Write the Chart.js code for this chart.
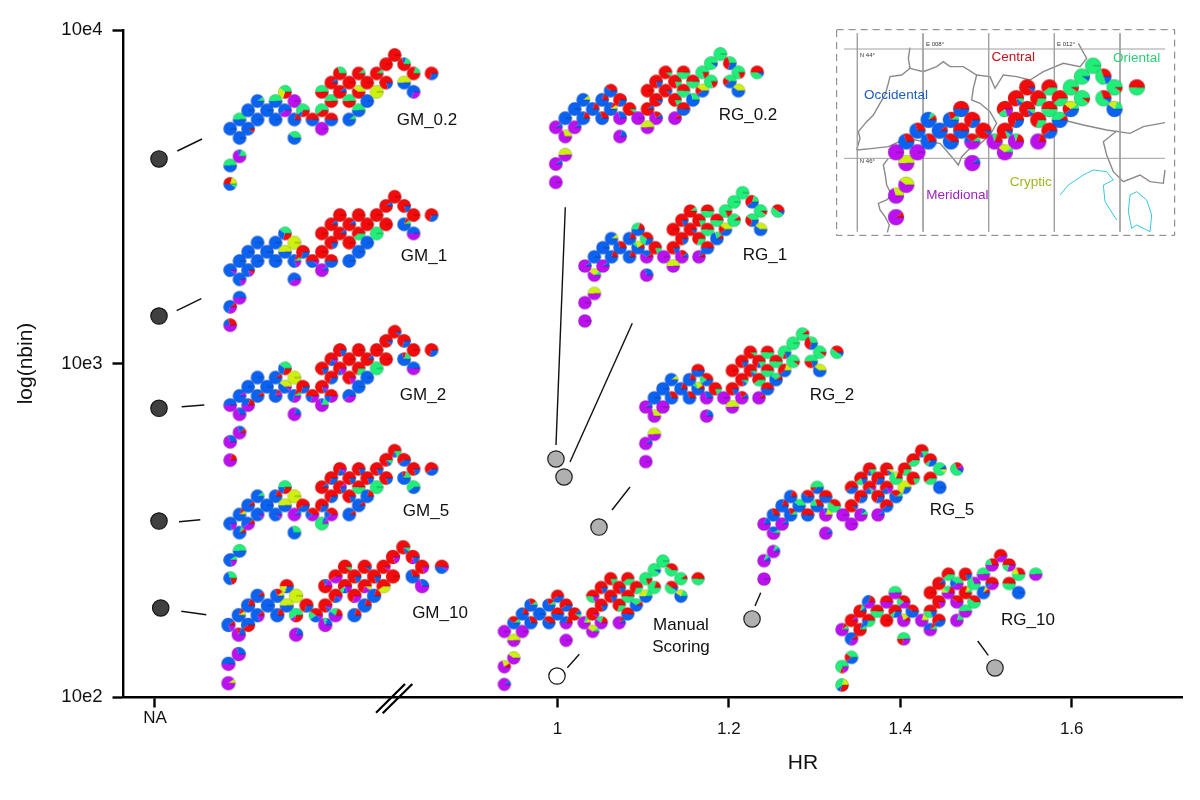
<!DOCTYPE html>
<html><head><meta charset="utf-8">
<style>html,body{margin:0;padding:0;background:#fff}canvas{display:block}</style>
<script src="https://cdn.jsdelivr.net/npm/chart.js@4"></script>
</head><body><canvas id="c" width="1200" height="800"></canvas>
<script>
// ---- categories / ticks
const hrTicks = [0.5303, 1, 1.2, 1.4, 1.6];
const hrTickLabels = ['NA', ['', '1'], ['', '1.2'], ['', '1.4'], ['', '1.6']];
const nbinTicks = [100, 1000, 10000];
const nbinTickLabels = ['10e2', '10e3', '10e4'];
// ---- the 46 sampling sites: column and row of each site in the map grid
const siteCol = [0,0,1,1,0,2,1,3,2,4,3,5,5,6,6,7,7,7,8,9,10,11,10,10,11,11,12,12,13,13,13,14,14,14,15,15,16,16,17,17,18,19,20,19,20,22];
const siteRow = [14,12,11,9,8,8,7,7,6,6,5,5,7,6,4,5,7,9,6,7,6,7,8,4,5,3,2,4,3,5,7,6,4,2,3,5,2,4,3,1,0,1,2,3,4,2];
// ---- HR of each grid column, per panel
const GM_hr = [.618,.629,.639,.650,.661,.671,.682,.693,.703,.714,.725,.736,.746,.757,.768,.778,.789,.800,.810,.821,.832,.843,.853];
const GM_10_hr = [.616,.628,.639,.650,.662,.673,.684,.695,.707,.718,.729,.741,.752,.763,.775,.786,.797,.808,.820,.831,.842,.854,.865];
const RG_02_hr = [.998,1.009,1.020,1.030,1.041,1.052,1.062,1.073,1.084,1.094,1.105,1.115,1.126,1.137,1.147,1.158,1.169,1.179,1.190,1.201,1.211,1.222,1.233];
const RG_1_hr = [1.032,1.043,1.053,1.063,1.073,1.084,1.094,1.104,1.114,1.124,1.135,1.145,1.155,1.165,1.175,1.186,1.196,1.206,1.216,1.227,1.237,1.247,1.257];
const RG_2_hr = [1.103,1.113,1.123,1.133,1.144,1.154,1.164,1.174,1.184,1.194,1.204,1.215,1.225,1.235,1.245,1.255,1.265,1.275,1.286,1.296,1.306,1.316,1.326];
const RG_5_hr = [1.241,1.252,1.262,1.272,1.282,1.292,1.303,1.313,1.323,1.333,1.343,1.354,1.364,1.374,1.384,1.395,1.405,1.415,1.425,1.435,1.446,1.456,1.466];
const RG_10_hr = [1.332,1.343,1.353,1.363,1.373,1.384,1.394,1.404,1.414,1.425,1.435,1.445,1.456,1.466,1.476,1.486,1.497,1.507,1.517,1.527,1.538,1.548,1.558];
const MAN_hr = [.938,.949,.959,.969,.979,.990,1.000,1.010,1.020,1.031,1.041,1.051,1.062,1.072,1.082,1.092,1.103,1.113,1.123,1.133,1.144,1.154,1.164];
const MAP_hr = [1.395,1.407,1.420,1.433,1.446,1.459,1.471,1.484,1.497,1.510,1.522,1.535,1.548,1.561,1.574,1.586,1.599,1.612,1.625,1.637,1.650,1.663,1.676];
// ---- nbin of each grid row, per panel
const GM_02_nbin = [8415,7897,7410,6954,6526,6124,5746,5392,5060,4749,4456,4182,3924,3682,3455];
const GM_1_nbin = [3163,2969,2787,2615,2455,2304,2163,2030,1905,1788,1678,1575,1479,1388,1303];
const GM_2_nbin = [1246,1169.5,1097.7,1030.3,967.1,907.7,851.9,799.6,750.5,704.4,661.2,620.6,582.5,546.7,513.1];
const GM_5_nbin = [547.6,514.3,482.9,453.5,425.9,400.0,375.6,352.7,331.2,311.1,292.1,274.3,257.6,241.9,227.2];
const GM_10_nbin = [281.1,262.9,245.8,229.9,215.0,201.1,188.1,175.9,164.5,153.8,143.8,134.5,125.8,117.6,110.0];
const RG_02_nbin = [8473,7954,7466,7008,6579,6175,5797,5441,5108,4795,4501,4225,3966,3723,3495];
const RG_1_nbin = [3252,3053,2866,2690,2525,2370,2225,2089,1961,1841,1728,1622,1523,1429,1342];
const RG_2_nbin = [1226,1151,1081,1015,953.1,894.9,840.3,789.1,741.0,695.8,653.3,613.5,576.0,540.9,507.9];
const RG_5_nbin = [547.6,514.0,482.5,452.9,425.2,399.1,374.6,351.7,330.1,309.9,290.9,273.1,256.3,240.6,225.9];
const RG_10_nbin = [265.3,248.9,233.5,219.1,205.6,192.9,180.9,169.8,159.3,149.4,140.2,131.5,123.4,115.8,108.6];
const MAN_nbin = [255.7,240.6,226.4,213.0,200.5,188.6,177.5,167.0,157.2,147.9,139.2,131.0,123.2,116.0,109.1];
const MAP_nbin = [7815,7252,6730,6245,5796,5378,4991,4632,4298,3989,3702,3435,3188,2958,2745];
// ---- cluster shares per site (b occidental, r central, g oriental, y cryptic, p meridional), listed clockwise
const GM_02_pies = ["g1b4r3y2","b5g5","p7b1g2","b10","b10","r1b9","b5g5","b10","b10","b10","b9g1","b5g5","b10","p4b6","r3y3g4","p10","b8r2","b6g4","r3b1g6","b5r5","r4g6","b5r5","p10","r5g5","r5g5","r9b1","r7g3","r8b1","r10","r5g5","b9g1","b5g5","r6y4","r9g1","r10","b10","r9g1","y10","b2r8","r10","r10","r7b1g2","r8g2","b5y5","p3b7","b3r7"];
const GM_1_pies = ["p5b2r3","p3b6r1","p5b5","p2b8","p1b9","r1p1b8","b10","b10","b10","b10","b10","b10","b10","b5y5","r3b3g4","y10","p2b6r1g1","p4b6","b3r7","p1b4r5","r10","b5r5","p9b1","r10","b2r8","r9b1","r10","r9b1","r9b1","r10","b10","b10","g4r6","r10","r10","b10","r10","g10","r10","r9b1","r10","b2r8","r10","b8r1g1","p5b5","b3r7"];
const GM_2_pies = ["p8r2","p7b3","p7b2r1","p7b3","p5b5","p5b3r2","b9p1","b9r1","b10","b10","b10","b9r1","b8r1p1","p1b5y4","r3b3g4","y10","p3b5r1g1","p8b2","b3r7","p3b2r5","p1b1r8","p3b2r5","p7b1g2","b2r8","b3r7","p1b2r7","b2r8","p2b1r7","r10","p2r8","p4b6","b10","g3r7","r10","r9b1","b10","r10","g10","r10","b1r9","b1r9","b3r7","r10","b7r1g2","p5b5","b3r7"];
const GM_5_pies = ["r2b5g3","p2b7g1","b5g5","b8g1r1","p2b8","p4b5r1","b8r1y1","p1b9","b9r1","b10","b9g1","b8r2","p1b9","b5y5","r3b2g5","y10","p9b1","b7g3","b4r6","p4b2r4","b3r7","p4b2r4","g8b1p1","r9b1","b3r7","b3r7","p1b2r7","b2r7p1","b2r8","b2r8","b9r1","b9r1","g5r5","b2r8","b2r8","b8r2","b2r8","g10","b2r8","g1b1r8","g2b1r7","b4r6","b2r8","b7r1g2","b4g6","b4r6"];
const GM_10_pies = ["p9y1","p5b5","p7b3","p7r1b2","p2b7r1","r4b6","b8r1y1","p2b7r1","b8r2","b10","b9r1","b7r2y1","b8r2","b5y5","b3y2r5","y10","r3p1g6","p8b2","b3r7","p1b3g2r4","p1b1r8","p5b1g2r2","p7g1b2","r7b1p2","p1b2r7","p4r6","g1r9","p2b1g1r6","b2r8","p3r7","b8r2","b8r2","y1p2r7","b1r9","b2r8","b8r2","p1r9","y4r6","r10","p2r8","g1b1r8","b2p1r7","p2r8","b7r3","p7b3","p1b4r5"];
const RG_02_pies = ["p10","p9b1","p5y5","p7y3","p9b1","p9b1","b10","b8r2","b10","b8r2","b9y1","b8r2","b7r3","b8r1y1","b6r4","b3r7","p7b3","p8b2","g1r9","p10","r9b1","p7r2b1","p5y5","r10","b1r9","b2r8","g1r9","b1r9","g2r8","g2r8","p9r1","b5r5","g5r5","g5r5","g5r5","b7g3","r2g8","b4r2y4","r2g8","b1g9","g10","b3r4g3","r2g8","b4r2g4","b6y4","b1g4r5"];
const RG_1_pies = ["p10","p10","p5y5","p6y3g1","p9b1","p9b1","b10","b8r2","b10","b7r3","b9y1","b8r2","b8r2","b6g1y2r1","b5g3r2","b3g3r4","p6b3r1","p7b3","g2r8","p10","b2r8","p7r2b1","p5y5","r10","b2r8","b2r8","r9g1","b1r9","g2r8","g3r7","p8b1r1","b5r5","g5r5","g5r5","g5r5","b7g2r1","r2g8","b4r2y4","g9r1","g10","g10","b4r4g2","r1g9","b3r3g4","b6y4","b1g5r4"];
const RG_2_pies = ["p10","p9b1","p5y5","p7y3","p9b1","p10","b10","b7r3","b10","b8r2","b9y1","b8r2","b7r3","b6g1y2r1","b5r5","b4g2r4","p7b3","p8b2","g2r8","p10","b2r8","p7r2b1","p5y5","r10","g1b1r8","b2r8","g1r9","g1b1r8","g2b1r7","g4r6","p9r1","b5r5","g5r5","g5r5","g5r5","b6g3r1","b2r1g7","b4r4y2","r1g9","g10","g9r1","b3r4g3","r1g9","b2r3g5","b6y4","b1g5r4"];
const RG_5_pies = ["p10","p8g1b1","p8g1b1","p6b3g1","p8b2","p9b1","b7r3","b7r2g1","b8r2","b6g4","b8r2","b6r4","b5r5","b5g2r3","b4r1g5","b5r5","p7b1y2","p9b1","g6r4","p10","b1r9","p8b1g1","p10","b4r6","b3r7","b2g2r6","g2b1r7","p1g1b2r6","b3r7","b3r7","p9b1","b4r6","p2b2r6","y1b1r8","g7y1r2","b6r3g1","g3r7","b3y7","g2r8","g4r6","g2b1r7","b3g1r6","y1g8b1","g4r6","b10","b1g6r2p1"];
const RG_10_pies = ["r3b1g4y2","p2r1g7","b4r2g4","p3b6r1","p8r1g1","r8b1g1","r9p1","g3b2r5","r8g1b1","g5r5","p4b4r2","p5r5","r10","b3g1r6","p5g5","p4g2r4","p7y2r1","p3r2g5","b6r4","p8y2","b2g3r5","b4r6","p5b3r1g1","r10","p2r8","r9b1","g4r6","p5y1g2r2","p4b2g4","p6r4","p8g2","p5g5","r8y1g1","b2r8","g7p3","g6r4","p5g5","b8y1r1","p4b1r5","p5g2r3","p4r6","p3g2r5","g5y2r3","g5r5","b10","p5g5"];
const MAN_pies = ["p9b1","p7y2r1","p6y4","p5y5","p10","p10","b6r3g1","b7r3","b8r2","b10","b7r2g1","b7r2g1","b6r4","b5r5","b4r6","b4r6","p5b3r2","p10","g1r8b1","p8g1y1","p1r9","p6g2r2","p6y3g1","p2g3r5","b2r8","b2r8","g2r8","b2r8","b2r8","g3r7","p8r1b1","b5r5","g5r5","g4r6","g3r7","b6g3r1","r2g8","b5y3g2","g8r2","b1g9","g10","g6r4","g9r1","b1g5r4","b6y2g2","g5r5"];
const MAP_pies = ["p9r1","p7y3","p6y4","p5y5","p10","p10","b7r3","b7r3","b7r3","b9r1","b8g1r1","b7r2g1","b6r4","b5r5","b5r5","b3r7","p5b1r3g1","p9b1","b1r9","p7g1r2","b1g1r8","p7g1r2","p6y3g1","p2g2r6","b3r7","g1b1r8","b1r9","g1b1r8","g3r7","g3r7","p8r2","b4r6","g5r5","g4r6","g4r6","b5g4r1","r1g9","b4r2y3g1","r1g9","b1g9","g10","b2g5r3","r1g9","b1g6r3","b6y2g2","g5r5"];
// ---- reference runs (filled circles)
const gmRefHR = [.535,.535,.535,.535,.537];
const gmRefNbin = [4105,1388,734,337,184.9];
const rgRefHR = [.9982,1.0076,1.0484,1.227,1.5105];
const rgRefNbin = [517.2,456.8,323.3,171.4,122.2];
const manRefHR = [.9994];
const manRefNbin = [115.6];
// ---- leader lines and axis-break strokes, in page units
const leaders = [[[177.3,151],[202,139]],[[176.7,310.7],[201.3,298.7]],[[181.7,406.7],[204.3,405]],[[179,521.7],[200.3,519.7]],[[181.3,611.3],[206.3,614.7]],[[565.3,207.3],[556,445]],[[632.3,323.3],[570,462]],[[630,487],[612,510]],[[760.7,592.7],[755,606]],[[579.3,654.3],[567.3,667.7]],[[977.7,641],[988.3,655.3]]];
const breakMarks = [[[376,712.7],[405,684]],[[382.7,713.3],[412.3,684]]];
const panelLabels = [["GM_0.2",427,120],["GM_1",424,256],["GM_2",423,395],["GM_5",426,511],["GM_10",440,613],["RG_0.2",748,115],["RG_1",765,255],["RG_2",832,395],["RG_5",952,510],["RG_10",1028,620],["Manual",681,625],["Scoring",681,647]];
// ---- inset map, in map units
const mapFrame = [[20,14],[1034,14],[1034,631],[20,631],[20,14]];
const mapGrid = [[[82,25],[82,620]],[[279,25],[279,620]],[[476,25],[476,620]],[[673,25],[673,620]],[[870,25],[870,620]],[[42,72],[1005,72]],[[42,400],[1005,400]]];
const mapBorders = [
 [[172,622],[178,600],[165,575],[150,555],[145,535],[170,525],[185,510],[170,480],[165,445],[160,420],[175,400]],
 [[80,375],[90,340],[85,320],[110,290],[130,270],[150,235],[165,210],[175,175],[180,155],[215,150],[240,130],[235,100],[240,68]],
 [[240,130],[280,140],[320,125],[340,110],[360,125],[400,125],[440,150],[480,155],[495,190],[520,150],[560,155],[600,165],[640,140],[700,115],[750,125],[770,100],[745,55]],
 [[80,375],[130,370],[175,365],[230,340],[280,350],[330,355],[365,395],[385,420],[395,395],[420,370],[440,365],[480,330],[500,295],[480,260],[450,235],[425,225],[430,190],[440,150]],
 [[700,285],[760,300],[830,315],[900,325],[940,305],[1005,293]],
 [[860,318],[820,350],[830,390],[850,440],[880,470],[930,450],[960,470],[1000,475],[1005,435]]];
const mapWater = [
 [[690,510],[715,480],[760,450],[790,435],[830,440],[850,465],[820,480],[825,530],[860,585]],
 [[900,510],[895,560],[905,610],[920,600],[960,620],[965,570],[950,525],[920,500],[900,510]]];
const mapLabels = [["Central",550,98,"#c8101c",13.5],["Oriental",920,100,"#2ccf78",13.5],["Occidental",198,211,"#1a5cc4",13.5],["Meridional",382,510,"#a020c0",13.5],["Cryptic",602,472,"#a4b41e",13.5],["E 008°",315,57,"#333",6],["E 012°",708,57,"#333",6],["N 44°",112,90,"#333",6],["N 46°",112,408,"#333",6]];

const COLORS = {b:'#0a62f2',r:'#f40a0a',g:'#1fee78',y:'#cdf00f',p:'#bc10f0'};
const FONT = "'Liberation Sans', Arial, sans-serif";
const sprites = {};
function pieSprite(spec, r){
  const key = spec + '@' + r;
  if (sprites[key]) return sprites[key];
  const size = 2*Math.ceil(r)+4, cv = document.createElement('canvas');
  cv.width = cv.height = size;
  const g = cv.getContext('2d'), c = size/2;
  const parts = [...spec.matchAll(/([a-z])(\d+)/g)].map(m=>[m[1],+m[2]]);
  const total = parts.reduce((s,p)=>s+p[1],0);
  let a = 0;
  parts.forEach(([k,v])=>{
    const b = a + v/total*2*Math.PI;
    g.beginPath(); g.moveTo(c,c); g.arc(c,c,r,a,b); g.closePath();
    g.fillStyle = COLORS[k]; g.fill(); a = b;
  });
  g.beginPath(); g.arc(c,c,r,0,2*Math.PI); g.strokeStyle='rgba(50,50,50,.35)'; g.lineWidth=.6; g.stroke();
  g.beginPath(); g.moveTo(c,c); g.lineTo(c+r,c); g.strokeStyle='rgba(20,20,20,.7)'; g.lineWidth=.5; g.stroke();
  return sprites[key] = cv;
}
const panels = [
 ['GM_0.2',GM_hr,GM_02_nbin,GM_02_pies,6.7],['GM_1',GM_hr,GM_1_nbin,GM_1_pies,6.7],['GM_2',GM_hr,GM_2_nbin,GM_2_pies,6.7],['GM_5',GM_hr,GM_5_nbin,GM_5_pies,6.7],['GM_10',GM_10_hr,GM_10_nbin,GM_10_pies,7],
 ['RG_0.2',RG_02_hr,RG_02_nbin,RG_02_pies,6.7],['RG_1',RG_1_hr,RG_1_nbin,RG_1_pies,6.6],['RG_2',RG_2_hr,RG_2_nbin,RG_2_pies,6.6],['RG_5',RG_5_hr,RG_5_nbin,RG_5_pies,6.6],['RG_10',RG_10_hr,RG_10_nbin,RG_10_pies,6.6],['Manual',MAN_hr,MAN_nbin,MAN_pies,6.5],['Map',MAP_hr,MAP_nbin,MAP_pies,8]
];
const pt = ([x,y])=>({x,y});
const lineSet = (pts,xID,yID,color,width,dash)=>({type:'scatter',showLine:true,data:pts.map(pt),xAxisID:xID,yAxisID:yID,borderColor:color,borderWidth:width,borderDash:dash||[],pointRadius:0,fill:false,clip:false,tension:0});
const datasets = [];
panels.forEach(([label,hr,nbin,pies,r])=>{
  datasets.push({label,data:siteCol.map((c,i)=>({x:hr[c],y:nbin[siteRow[i]]})),pointRadius:r,pointStyle:ctx=>pieSprite(pies[ctx.dataIndex],r),clip:false});
});
const refSet=(label,xs,ys,fill,border)=>({label,data:xs.map((x,i)=>({x,y:ys[i]})),pointRadius:8.2,pointStyle:'circle',backgroundColor:fill,borderColor:border,borderWidth:1.2,clip:false});
datasets.push(refSet('GM reference',gmRefHR,gmRefNbin,'#404040','#151515'));
datasets.push(refSet('RG reference',rgRefHR,rgRefNbin,'#b0b0b0','#1c1c1c'));
datasets.push(refSet('Manual reference',manRefHR,manRefNbin,'#ffffff','#111111'));
leaders.forEach(s=>datasets.push(lineSet(s,'pageX','pageY','#111',1.4)));
breakMarks.forEach(s=>datasets.push(lineSet(s,'pageX','pageY','#000',2.2)));
mapGrid.forEach(s=>datasets.push(lineSet(s,'mapX','mapY','#a0a0a0',1)));
mapBorders.forEach(s=>datasets.push(lineSet(s,'mapX','mapY','#8a8a8a',1.4)));
mapWater.forEach(s=>datasets.push(lineSet(s,'mapX','mapY','#35c8e0',1)));
datasets.push(lineSet(mapFrame,'mapX','mapY','#7c7c7c',1,[7,5]));

const textPlugin = {id:'texts',afterDraw(chart){
  const c=chart.ctx,s=chart.scales; c.save(); c.textAlign='center'; c.textBaseline='middle'; c.fillStyle='#111';
  c.font=`17px ${FONT}`;
  panelLabels.forEach(([t,x,y])=>c.fillText(t,s.pageX.getPixelForValue(x),s.pageY.getPixelForValue(y)));
  mapLabels.forEach(([t,x,y,col,sz])=>{c.fillStyle=col;c.font=`${sz}px ${FONT}`;c.fillText(t,s.mapX.getPixelForValue(x),s.mapY.getPixelForValue(y));});
  c.fillStyle='#111';c.font=`21px ${FONT}`;
  c.fillText(s.x.options.title.text,s.pageX.getPixelForValue(803),s.pageY.getPixelForValue(763));
  c.restore();
}};
const axisGrid={drawOnChartArea:false,drawTicks:true,tickLength:10.5,tickWidth:2.4,tickColor:'#000'};
const axisBorder={display:true,color:'#000',width:2.4};
new Chart(document.getElementById('c'),{
  type:'scatter',
  data:{datasets},
  plugins:[textPlugin],
  options:{
    responsive:false,animation:false,events:[],
    layout:{padding:{top:30,right:18,left:0,bottom:0}},
    plugins:{legend:{display:false},tooltip:{enabled:false}},
    scales:{
      x:{type:'linear',min:.493,max:1.7287,position:'bottom',
        grid:axisGrid,border:axisBorder,
        title:{display:false,text:'HR'},
        afterBuildTicks(a){a.ticks=hrTicks.map(value=>({value}));},
        afterFit(a){a.height=103;},
        ticks:{autoSkip:false,maxRotation:0,padding:2,color:'#111',
          font:ctx=>({family:FONT,size:17,lineHeight:ctx.index===0?'18px':'13px'}),
          callback:(v,i)=>hrTickLabels[i]}},
      y:{type:'logarithmic',min:100,max:10000,position:'left',
        grid:axisGrid,border:axisBorder,
        title:{display:true,text:'log(nbin)',color:'#111',font:{family:FONT,size:21},padding:{top:14,bottom:0}},
        afterBuildTicks(a){a.ticks=nbinTicks.map(value=>({value}));},
        afterFit(a){a.width=123;},
        ticks:{autoSkip:false,padding:10,color:'#111',font:{family:FONT,size:18.5},
          callback:(v,i)=>nbinTickLabels[i]}},
      pageX:{type:'linear',display:false,min:123,max:1182,position:'bottom'},
      pageY:{type:'linear',display:false,min:30,max:697,reverse:true,position:'left'},
      mapX:{type:'linear',display:false,min:-2121,max:1056,position:'bottom'},
      mapY:{type:'linear',display:false,min:15,max:2016,reverse:true,position:'left'}
    }
  }
});
</script></body></html>
